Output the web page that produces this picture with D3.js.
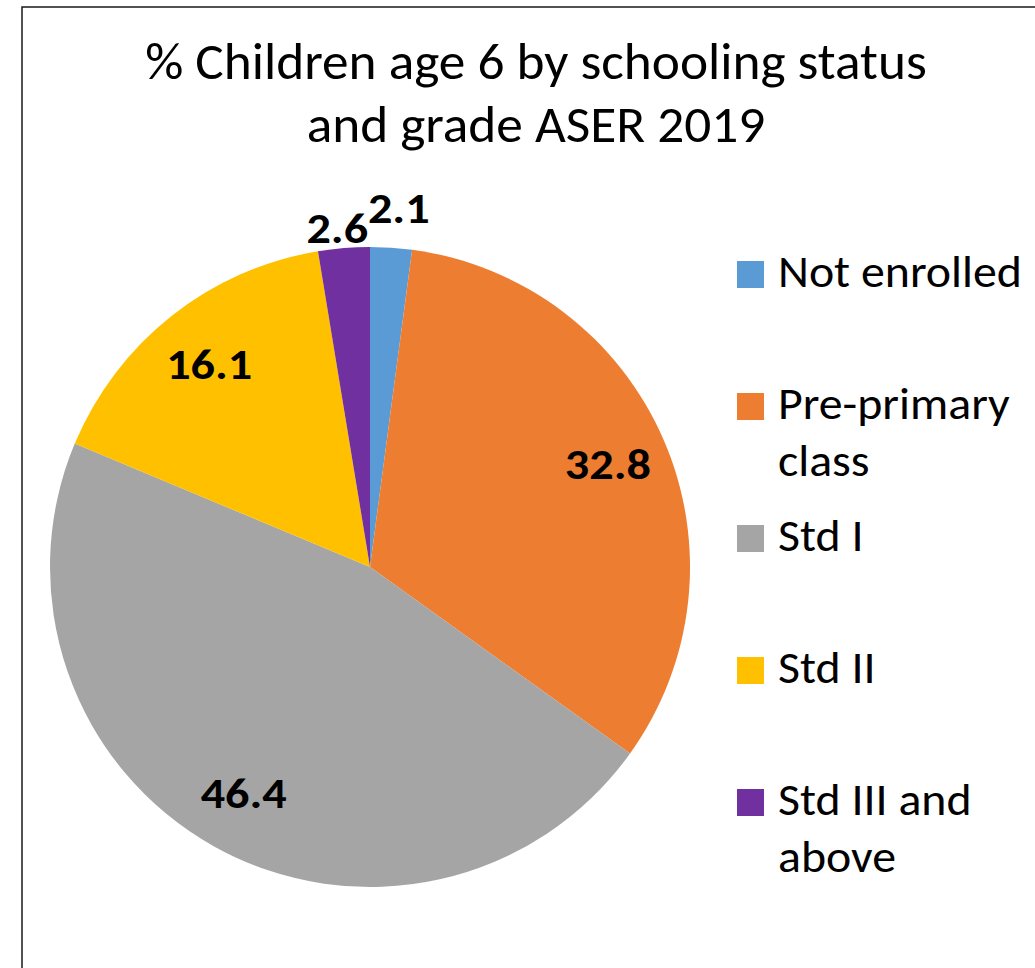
<!DOCTYPE html>
<html>
<head>
<meta charset="utf-8">
<script src="https://cdn.jsdelivr.net/npm/d3@7"></script>
<style>
  html, body { margin: 0; padding: 0; background: #fff; overflow: hidden; }
  svg { display: block; }
  text { font-family: Carlito, Calibri, Lato, "Noto Sans", sans-serif; }
</style>
</head>
<body>
<svg id="chart" width="1035" height="968"></svg>
<script>
const titleLines = ["% Children age 6 by schooling status", "and grade ASER 2019"];
const categories = ["Not enrolled", "Pre-primary class", "Std I", "Std II", "Std III and above"];
const values = [2.1, 32.8, 46.4, 16.1, 2.6];
const colors = ["#5B9BD5", "#ED7D31", "#A5A5A5", "#FFC000", "#7030A0"];

const svg = d3.select("#chart");

// chart border (extends past right/bottom edges)
svg.append("rect")
  .attr("x", 22).attr("y", 7)
  .attr("width", 1200).attr("height", 1200)
  .attr("fill", "#fff")
  .attr("stroke", "#1a1a1a").attr("stroke-width", 1.5);

// width adjust helper to approximate Calibri metrics
function fitWidth(sel, factor) {
  sel.each(function() {
    const w = this.getComputedTextLength();
    d3.select(this).attr("textLength", w * factor).attr("lengthAdjust", "spacingAndGlyphs");
  });
}

// title
svg.append("g").selectAll("text")
  .data(titleLines)
  .join("text")
  .attr("x", 536)
  .attr("y", (d, i) => 79 + i * 63)
  .attr("text-anchor", "middle")
  .attr("font-size", 52)
  .attr("fill", "#000")
  .text(d => d)
  .call(fitWidth, 1.025);

// pie
const cx = 370, cy = 567, R = 320;
const pie = d3.pie().sort(null).value(d => d);
const arcs = pie(values);
const arc = d3.arc().innerRadius(0).outerRadius(R);
const labelArc = d3.arc().innerRadius(R * 0.81).outerRadius(R * 0.81);

const g = svg.append("g").attr("transform", `translate(${cx},${cy})`);
g.selectAll("path")
  .data(arcs)
  .join("path")
  .attr("d", arc)
  .attr("fill", (d, i) => colors[i]);

function labelPos(d) {
  const small = (d.endAngle - d.startAngle) < 0.3;
  if (!small) return labelArc.centroid(d);
  const mid = (d.startAngle + d.endAngle) / 2;
  const side = Math.sin(mid) >= 0 ? 1 : -1;
  const r = R + (side > 0 ? 40 : 20);
  return [r * Math.sin(mid) + side * 5, -r * Math.cos(mid)];
}

g.selectAll("text.lbl")
  .data(arcs)
  .join("text")
  .attr("class", "lbl")
  .attr("transform", d => `translate(${labelPos(d)})`)
  .attr("dy", "0.35em")
  .attr("text-anchor", "middle")
  .attr("font-size", 43)
  .attr("font-weight", "bold")
  .attr("fill", "#000")
  .text(d => d3.format(".1f")(d.data))
  .call(fitWidth, 1.12);

// legend
function wrap(label, maxChars) {
  const words = label.split(" ");
  const lines = [];
  let cur = "";
  words.forEach(w => {
    const t = cur ? cur + " " + w : w;
    if (t.length > maxChars && cur) { lines.push(cur); cur = w; }
    else cur = t;
  });
  if (cur) lines.push(cur);
  return lines;
}

const items = svg.append("g").selectAll("g")
  .data(categories)
  .join("g")
  .attr("transform", (d, i) => `translate(737,${261 + i * 132})`);

items.append("rect")
  .attr("width", 27).attr("height", 27)
  .attr("fill", (d, i) => colors[i]);

items.each(function(d) {
  d3.select(this).selectAll("text")
    .data(wrap(d, 12))
    .join("text")
    .attr("x", 41)
    .attr("y", (l, j) => 26 + j * 57)
    .attr("font-size", 46)
    .attr("fill", "#000")
    .text(l => l)
    .call(fitWidth, 1.04);
});
</script>
</body>
</html>
